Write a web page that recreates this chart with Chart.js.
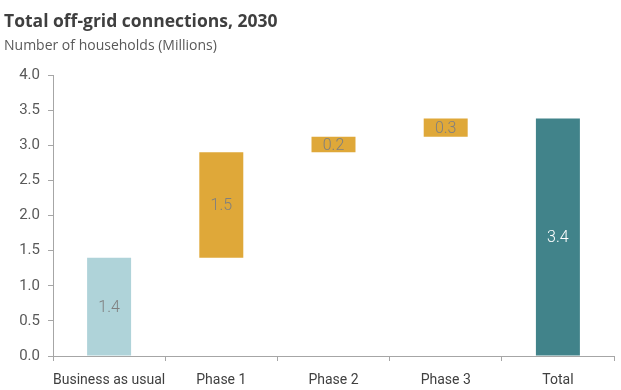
<!DOCTYPE html>
<html>
<head>
<meta charset="utf-8">
<script src="https://cdn.jsdelivr.net/npm/chart.js@4.4.1/dist/chart.umd.min.js"></script>
<style>
  html, body { margin: 0; padding: 0; background: #ffffff; }
  #wrap { position: relative; width: 621px; height: 390px; }
</style>
</head>
<body>
<div id="wrap"><canvas id="chart" width="621" height="390"></canvas></div>
<script>
// Waterfall of off-grid household connections in 2030 (millions)
const categories = ['Business as usual', 'Phase 1', 'Phase 2', 'Phase 3', 'Total'];
const stepValues = [1.4, 1.5, 0.22, 0.26, 3.38];
const stepKinds = ['base', 'step', 'step', 'step', 'total'];
const yTicks = [0, 0.5, 1.0, 1.5, 2.0, 2.5, 3.0, 3.5, 4.0];

const kindColors = { base: '#afd3d9', step: '#dfa839', total: '#41838a' };
const kindLabelColors = { base: '#7f7f7f', step: '#7f7f7f', total: '#ffffff' };

// Floating ranges: base and total start at zero, steps stack on the running sum
let running = 0;
const ranges = stepValues.map((v, i) => {
  const kind = stepKinds[i];
  if (kind === 'step') {
    const r = [running, running + v];
    running += v;
    return r;
  }
  running = v;
  return [0, v];
});

const FONT = '"Open Sans", "Noto Sans", sans-serif';
const AXIS_FONT = 'Roboto, "Open Sans", sans-serif';

const headerPlugin = {
  id: 'header',
  afterDraw(chart) {
    const ctx = chart.ctx;
    ctx.save();
    ctx.textAlign = 'left';
    ctx.textBaseline = 'alphabetic';
    ctx.fillStyle = '#3f3f3f';
    ctx.font = 'bold 17.5px ' + FONT;
    ctx.fillText('Total off-grid connections, 2030', 4, 27);
    ctx.fillStyle = '#595959';
    ctx.font = '14px ' + FONT;
    ctx.fillText('Number of households (Millions)', 4, 50);
    ctx.restore();
  }
};

const valueLabelPlugin = {
  id: 'valueLabels',
  afterDatasetsDraw(chart) {
    const ctx = chart.ctx;
    const meta = chart.getDatasetMeta(0);
    ctx.save();
    ctx.textAlign = 'center';
    ctx.textBaseline = 'middle';
    ctx.font = '300 16px ' + AXIS_FONT;
    meta.data.forEach((bar, i) => {
      const top = Math.min(bar.y, bar.base);
      const bottom = Math.max(bar.y, bar.base);
      ctx.fillStyle = kindLabelColors[stepKinds[i]];
      ctx.fillText(stepValues[i].toFixed(1), bar.x, (top + bottom) / 2 + 1);
    });
    ctx.restore();
  }
};

new Chart(document.getElementById('chart'), {
  type: 'bar',
  data: {
    labels: categories,
    datasets: [{
      data: ranges,
      backgroundColor: stepKinds.map(k => kindColors[k]),
      borderWidth: 0,
      categoryPercentage: 1,
      barPercentage: 0.392
    }]
  },
  options: {
    responsive: false,
    animation: false,
    devicePixelRatio: 1,
    layout: { padding: { top: 75, right: 7, bottom: 0, left: 0 } },
    plugins: {
      legend: { display: false },
      tooltip: { enabled: false }
    },
    scales: {
      x: {
        grid: {
          offset: true,
          drawOnChartArea: false,
          drawTicks: true,
          tickLength: 5,
          color: '#a6a6a6'
        },
        border: { color: '#a6a6a6', width: 1 },
        ticks: {
          color: '#404040',
          font: { family: AXIS_FONT, size: 14 },
          padding: 11,
          maxRotation: 0,
          autoSkip: false
        },
        afterFit(scale) { scale.height = 34; }
      },
      y: {
        min: 0,
        max: 4,
        afterBuildTicks(scale) { scale.ticks = yTicks.map(v => ({ value: v })); },
        grid: {
          drawOnChartArea: false,
          drawTicks: true,
          tickLength: 5,
          color: '#a6a6a6'
        },
        border: { color: '#a6a6a6', width: 1 },
        ticks: {
          color: '#595959',
          font: { family: AXIS_FONT, size: 15 },
          padding: 8,
          callback: v => Number(v).toFixed(1)
        },
        afterFit(scale) { scale.width = 53; }
      }
    }
  },
  plugins: [headerPlugin, valueLabelPlugin]
});
</script>
</body>
</html>
